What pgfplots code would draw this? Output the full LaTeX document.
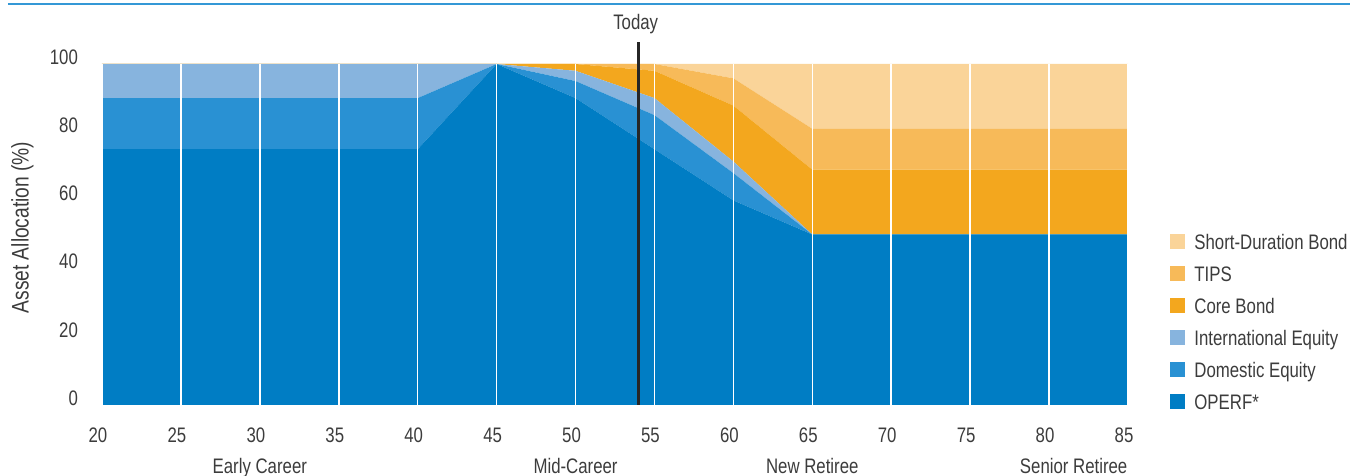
\documentclass[border=0pt]{standalone}
\usepackage{fontspec}
\setmainfont{Liberation Sans}[FakeStretch=0.8]
\usepackage{pgfplots}
\pgfplotsset{compat=1.18}
\usepackage{pgfplotstable}

\definecolor{operf}{RGB}{0,125,196}
\definecolor{domeq}{RGB}{41,145,211}
\definecolor{intleq}{RGB}{135,180,222}
\definecolor{corebd}{RGB}{243,167,30}
\definecolor{tips}{RGB}{247,186,89}
\definecolor{sdbond}{RGB}{250,212,153}
\definecolor{topline}{RGB}{52,152,214}
\definecolor{txt}{RGB}{60,60,60}

% glide path: allocation (%) by age
\pgfplotstableread{
age operf dom intl core tips sd
20  75   15  10   0    0  0
40  75   15  10   0    0  0
45  100  0   0    0    0  0
50  90   5   3    2    0  0
55  75   10  5    8    2  0
60  60   8   3.4  16.4 8  4.2
65  50   0   0    19   12 19
85  50   0   0    19   12 19
}\glide

\begin{document}
\begin{tikzpicture}[font=\fontsize{10.5pt}{12.6pt}\selectfont, text=txt]
\useasboundingbox (-51pt,-35.5pt) rectangle (624pt,202.5pt);
\draw[topline, line width=1pt] (-47pt,200.25pt) -- (624pt,200.25pt);
\begin{axis}[
    at={(0pt,0pt)}, anchor=south west,
    scale only axis, width=513pt, height=170.5pt,
    xmin=20, xmax=85, ymin=0, ymax=100,
    xtick={20,25,...,85}, ytick={0,20,...,100},
    axis line style={draw=none}, major tick length=0pt,
    /pgf/number format/assume math mode=true,
    xticklabel style={anchor=base, yshift=-18.75pt, xshift=-2pt},
    yticklabel style={anchor=east, inner sep=0pt, xshift=-11.85pt, yshift=3.5pt},
    axis on top,
    xmajorgrids, grid style={white, line width=0.8pt},
    stack plots=y, clip=false,
    reverse legend,
    legend cell align=left,
    legend image code/.code={\fill (0pt,-3.75pt) rectangle (7.5pt,3.75pt);},
    legend style={draw=none, fill=none, at={(1,0)}, anchor=south west,
        xshift=21pt, yshift=-2.25pt, inner sep=0pt, row sep=8.5pt,
        column sep=4.5pt,
        nodes={inner sep=0pt, text height=7.5pt, text depth=0pt}},
]
\addplot[fill=operf, draw=none] table[x=age, y=operf] {\glide} \closedcycle;
\addlegendentry{OPERF*}
\addplot[fill=domeq, draw=none] table[x=age, y=dom] {\glide} \closedcycle;
\addlegendentry{Domestic Equity}
\addplot[fill=intleq, draw=none] table[x=age, y=intl] {\glide} \closedcycle;
\addlegendentry{International Equity}
\addplot[fill=corebd, draw=none] table[x=age, y=core] {\glide} \closedcycle;
\addlegendentry{Core Bond}
\addplot[fill=tips, draw=none] table[x=age, y=tips] {\glide} \closedcycle;
\addlegendentry{TIPS}
\addplot[fill=sdbond, draw=none] table[x=age, y=sd] {\glide} \closedcycle;
\addlegendentry{Short-Duration Bond}
\coordinate (today0) at (axis cs:54,0);
\coordinate (today1) at (axis cs:54,106.5);
\coordinate (todaylbl) at (axis cs:54,110);
\end{axis}
\draw[black!85, line width=1.4pt] (today0) -- (today1);
\node[anchor=base, xshift=-1.5pt] at (todaylbl) {Today};
\node[rotate=90, font=\fontsize{12pt}{14pt}\selectfont] at (-39.75pt,88.75pt) {Asset Allocation (\%)};
\node[anchor=base] at (78.92pt,-34.25pt) {Early Career};
\node[anchor=base] at (236.77pt,-34.25pt) {Mid-Career};
\node[anchor=base] at (355.15pt,-34.25pt) {New Retiree};
\node[anchor=base east] at (516.2pt,-34.25pt) {Senior Retiree};
\end{tikzpicture}
\end{document}
